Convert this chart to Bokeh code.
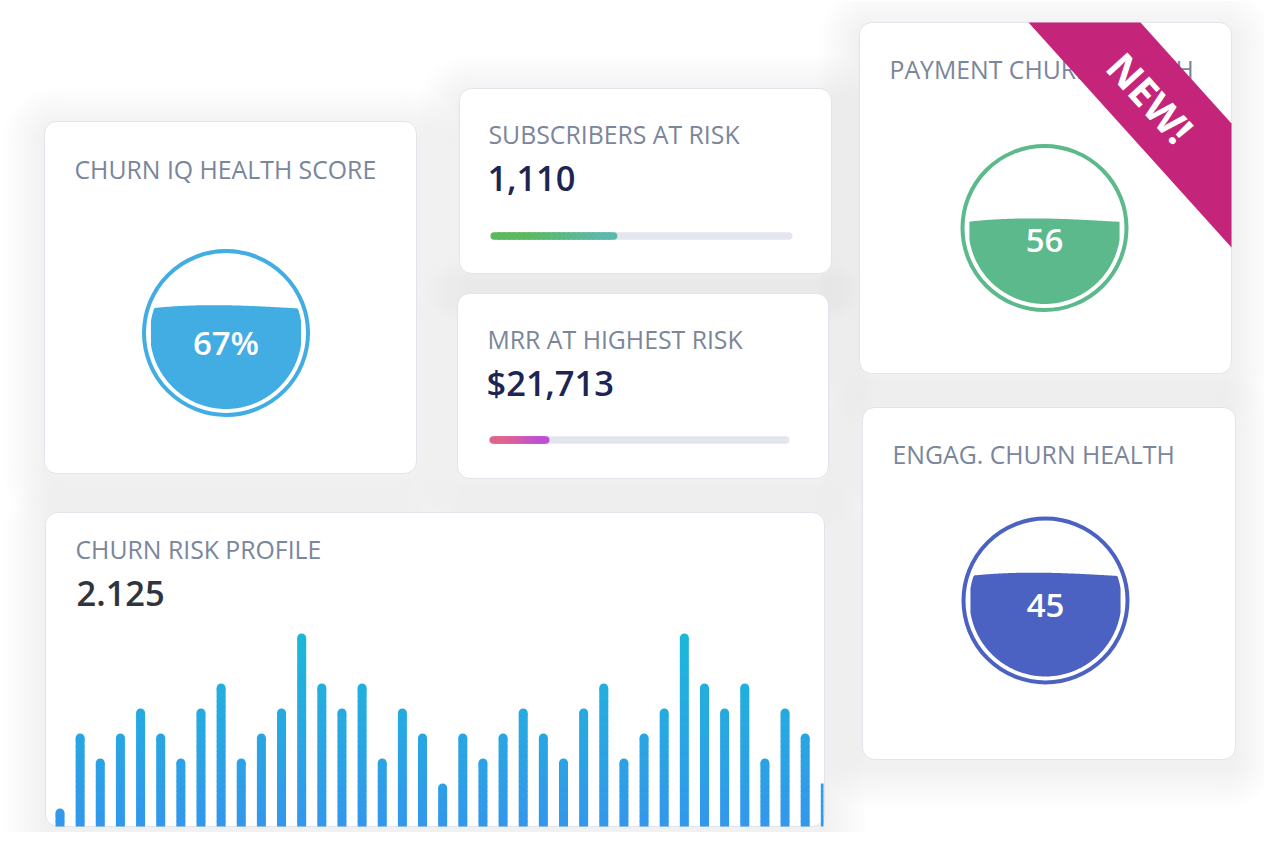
import numpy as np
from bokeh.plotting import figure
from bokeh.models import Range1d
from bokeh.core.properties import value
from bokeh.embed import file_html
from bokeh.resources import INLINE

# ---------------- data ----------------
gauge_titles = ["CHURN IQ HEALTH SCORE", "PAYMENT CHURN HEALTH", "ENGAG. CHURN HEALTH"]
gauge_labels = ["67%", "56", "45"]
gauge_fill = [0.67, 0.55, 0.67]

kpi_titles = ["SUBSCRIBERS AT RISK", "MRR AT HIGHEST RISK"]
kpi_values = ["1,110", "$21,713"]
kpi_progress = [0.42, 0.20]

profile_title = "CHURN RISK PROFILE"
profile_value = "2.125"
risk_levels = [1, 4, 3, 4, 5, 4, 3, 5, 6, 3, 4, 5, 8, 6, 5, 6, 3, 5, 4,
               2, 4, 3, 4, 5, 4, 3, 5, 6, 3, 4, 5, 8, 6, 5, 6, 3, 5, 4, 2]

badge_text = "NEW!"

# ---------------- layout & styles ----------------
FONT = value("Open Sans")
FONT_SB = value("Open Sans SemiBold, Open Sans")
TITLE_COLOR = "#7a869a"
FW, FH = 1264, 832

# cards: left, top, right, bottom (picture pixels)
cards = {
    "A": (44, 121, 416, 473),
    "B": (459, 88, 831, 273),
    "C": (457, 293, 828, 478),
    "D": (859, 22, 1231, 373),
    "E": (862, 407, 1235, 759),
    "F": (45, 512, 824, 826),
}

gauge_pos = [(225.5, 332.5), (1044.0, 227.5), (1045.0, 600.0)]
gauge_colors = ["#42ade3", "#5cb98c", "#4c62c2"]
gauge_title_pos = [(74, 168), (889, 68), (892, 453)]
gauge_label_base = [341.5, 240, 605]
R_RING, RING_W, R_IN = 82, 4, 76

kpi_title_pos = [(488, 133), (487, 338)]
kpi_value_pos = [(487, 177.5), (486, 381.5)]
kpi_track = [(490, 792, 235.5), (489, 789, 439.5)]
kpi_grad = [("#5bba5e", "#5cb8aa"), ("#e0648e", "#c04fd2")]
profile_title_pos = (75, 548)
profile_value_pos = (76, 592.5)

bar_x0, bar_dx, bar_w = 59.5, 20.14, 9.0      # pixel position of first bar, spacing, width
bar_y0, bar_unit = 833.0, 25.0                 # pixel of level 0, pixels per level
bar_base_px = cards["F"][3]
bar_top_col, bar_bot_col = "#1cb8d8", "#3397ec"


def hex2rgb(c):
    c = c.lstrip("#")
    return np.array([int(c[i:i + 2], 16) for i in (0, 2, 4)], float)


def mix(c0, c1, t):
    t = min(max(t, 0.0), 1.0)
    r = hex2rgb(c0) * (1 - t) + hex2rgb(c1) * t
    return "#%02x%02x%02x" % tuple(int(round(v)) for v in r)


p = figure(width=FW, height=FH, x_range=Range1d(0, FW), y_range=Range1d(FH, 0),
           output_backend="svg", toolbar_location=None, min_border=0,
           x_axis_type=None, y_axis_type=None, outline_line_color=None,
           background_fill_color="white", border_fill_color="white")
p.grid.visible = False

# bar-chart scales
p.extra_x_ranges = {"bars": Range1d((0 - bar_x0) / bar_dx, (FW - bar_x0) / bar_dx)}
p.extra_y_ranges = {"bars": Range1d((bar_y0 - FH) / bar_unit, (bar_y0 - 0) / bar_unit)}

# ---------------- card shadows and cards ----------------
cl = [c[0] for c in cards.values()]
ct = [c[1] for c in cards.values()]
cr = [c[2] for c in cards.values()]
cb = [c[3] for c in cards.values()]
for k in range(1, 15):
    e = 3 * k
    dy = 8
    p.quad(left=[v - e for v in cl], right=[v + e for v in cr],
           top=[v - e + dy for v in ct], bottom=[v + e + dy for v in cb],
           fill_color="#aeb0bb", fill_alpha=0.011, line_color=None,
           border_radius=int(12 + e))
p.quad(left=cl, right=cr, top=ct, bottom=cb, fill_color="white",
       line_color="#e2e4eb", line_width=1, border_radius=12)

# ---------------- titles ----------------
p.text(x=[q[0] for q in gauge_title_pos], y=[q[1] for q in gauge_title_pos], text=gauge_titles,
       text_font=FONT, text_font_size="24.8px", text_color=TITLE_COLOR,
       text_baseline="alphabetic", text_align="left")
p.text(x=[q[0] for q in kpi_title_pos], y=[q[1] for q in kpi_title_pos], text=kpi_titles,
       text_font=FONT, text_font_size="24.8px", text_color=TITLE_COLOR,
       text_baseline="alphabetic", text_align="left")
p.text(x=[profile_title_pos[0]], y=[profile_title_pos[1]], text=[profile_title],
       text_font=FONT, text_font_size="24.8px", text_color=TITLE_COLOR,
       text_baseline="alphabetic", text_align="left")

# ---------------- KPI values and progress bars ----------------
p.text(x=[q[0] for q in kpi_value_pos], y=[q[1] for q in kpi_value_pos], text=kpi_values,
       text_font=FONT_SB, text_font_size="34.5px", text_color="#1d2553",
       text_baseline="alphabetic", text_align="left")
p.text(x=[profile_value_pos[0]], y=[profile_value_pos[1]], text=[profile_value],
       text_font=FONT_SB, text_font_size="34.5px", text_color="#2f3540",
       text_baseline="alphabetic", text_align="left")

LW = 7.5
for (x0, x1, yc), frac, (c0, c1) in zip(kpi_track, kpi_progress, kpi_grad):
    p.segment(x0=[x0 + LW / 2], y0=[yc], x1=[x1 - LW / 2], y1=[yc],
              line_color="#e3e6ed", line_width=LW, line_cap="round")
    xe = x0 + frac * (x1 - x0)
    n = 24
    xs = np.linspace(x0 + LW / 2, xe - LW / 2, n + 1)
    cols = [mix(c0, c1, ((j + 0.5) / n - 0.3) / 0.6) for j in range(n)]
    p.segment(x0=list(xs[:-1]), y0=[yc] * n, x1=list(xs[1:]), y1=[yc] * n,
              line_color=cols, line_width=LW, line_cap="round")

# ---------------- gauges ----------------
p.circle(x=[g[0] for g in gauge_pos], y=[g[1] for g in gauge_pos], radius=R_RING,
         fill_color=None, line_color=gauge_colors, line_width=RING_W)
wx, wy = [], []
for (cx, cy), f in zip(gauge_pos, gauge_fill):
    level = cy + R_IN - f * 2 * R_IN
    xs = np.linspace(cx - R_IN, cx + R_IN, 161)
    dx = np.clip(xs - cx, -R_IN, R_IN)
    h = np.sqrt(np.maximum(R_IN ** 2 - dx ** 2, 0))
    t = (xs - xs[0]) / (xs[-1] - xs[0])
    wave = level + 1.5 - 3.5 * np.sin(np.pi * t ** 0.8)
    top = np.maximum(wave, cy - h)
    bot = cy + h
    m = top < bot
    wx.append(list(xs[m]) + list(xs[m][::-1]))
    wy.append(list(top[m]) + list(bot[m][::-1]))
p.patches(xs=wx, ys=wy, fill_color=gauge_colors, line_color=None)
p.text(x=[g[0] for g in gauge_pos], y=gauge_label_base, text=gauge_labels,
       text_font=FONT_SB, text_font_size="33px", text_color="white",
       text_baseline="alphabetic", text_align="center")

# ---------------- churn risk profile bars ----------------
base_lv = (bar_y0 - bar_base_px) / bar_unit
top_lv = max(risk_levels)
cap_r = bar_w / 2 / bar_unit
half_w = bar_w / 2 / bar_dx
right_lim = (cards["F"][2] - 1 - bar_x0) / bar_dx
step = 0.2
bl, br, bt, bb, bc = [], [], [], [], []
cx_, cy_, cc_ = [], [], []
for i, v in enumerate(risk_levels):
    left = i - half_w
    right = min(i + half_w, right_lim)
    clipped = right < i + half_w
    stem_top = v if clipped else v - cap_r
    b = base_lv
    while b < stem_top - 1e-9:
        tt = min(b + step + 0.03, stem_top)
        bl.append(left); br.append(right); bb.append(b); bt.append(tt)
        bc.append(mix(bar_bot_col, bar_top_col, ((b + tt) / 2 - base_lv) / (top_lv - base_lv)))
        b += step
    if not clipped:
        cx_.append(i); cy_.append(stem_top)
        cc_.append(mix(bar_bot_col, bar_top_col, (stem_top - base_lv) / (top_lv - base_lv)))
p.quad(left=bl, right=br, top=bt, bottom=bb, fill_color=bc, line_color=None,
       x_range_name="bars", y_range_name="bars")
p.scatter(x=cx_, y=cy_, size=bar_w, marker="circle", fill_color=cc_, line_color=None,
          x_range_name="bars", y_range_name="bars")

# ---------------- NEW! ribbon ----------------
p.patch(x=[1028, 1140, 1231, 1231], y=[22, 22, 123, 247], fill_color="#c4257a", line_color=None)
p.text(x=[1150], y=[97], text=[badge_text], angle=-0.836,
       text_font=FONT, text_font_style="bold", text_font_size="40px", text_color="white",
       text_baseline="middle", text_align="center")

open("out.html", "w").write(file_html(p, INLINE))
